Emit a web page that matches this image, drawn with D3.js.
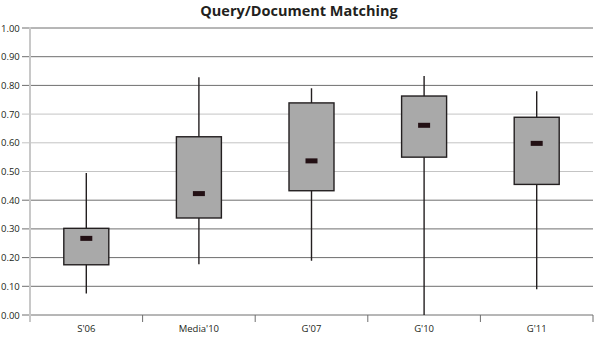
<!DOCTYPE html>
<html><head><meta charset="utf-8">
<script src="https://cdn.jsdelivr.net/npm/d3@7"></script>
<style>body{margin:0;background:#fff}svg{display:block}</style>
</head><body>
<svg id="c" width="600" height="338"></svg>
<script>
const categories = ["S'06", "Media'10", "G'07", "G'10", "G'11"];
const whiskerLow  = [0.075, 0.177, 0.189, 0.000, 0.090];
const boxLow      = [0.175, 0.338, 0.433, 0.550, 0.455];
const medians     = [0.267, 0.423, 0.537, 0.661, 0.598];
const boxHigh     = [0.302, 0.621, 0.739, 0.763, 0.689];
const whiskerHigh = [0.495, 0.828, 0.790, 0.833, 0.780];
const yTicks = [0, 0.1, 0.2, 0.3, 0.4, 0.5, 0.6, 0.7, 0.8, 0.9, 1.0];
const title = "Query/Document Matching";

const data = categories.map((c, i) => ({c, wl: whiskerLow[i], bl: boxLow[i], m: medians[i], bh: boxHigh[i], wh: whiskerHigh[i]}));

const svg = d3.select("#c");
const font = "'Open Sans', 'DejaVu Sans', sans-serif";
const x = d3.scaleBand().domain(categories).range([30, 593]);
const y = d3.scaleLinear().domain([0, 1]).range([315, 28]);

// gridlines
const light = new Set([0.5, 0.6, 0.7]);
svg.append("g").selectAll("line").data(yTicks).join("line")
  .attr("x1", 22).attr("x2", 593)
  .attr("y1", d => y(d)).attr("y2", d => y(d))
  .attr("stroke", d => light.has(+d.toFixed(1)) ? "#c4c4c4" : "#6e6e6e")
  .attr("stroke-width", 1);

// y labels
svg.append("g").selectAll("text").data(yTicks).join("text")
  .attr("x", 1).attr("y", d => y(d) + 3.5)
  .attr("font-family", font).attr("font-size", 9.5).attr("fill", "#231f20")
  .text(d => d.toFixed(2));

// y axis line
svg.append("line").attr("x1", 30).attr("x2", 30).attr("y1", 27).attr("y2", 322)
  .attr("stroke", "#c8c8c8").attr("stroke-width", 2);

// x ticks at band boundaries
const bounds = categories.slice(1).map(c => x(c)).concat([x.range()[1]]);
svg.append("g").selectAll("line").data(bounds).join("line")
  .attr("x1", d => d).attr("x2", d => d).attr("y1", 315).attr("y2", 322)
  .attr("stroke", "#6e6e6e").attr("stroke-width", 1);

// x labels
svg.append("g").selectAll("text").data(categories).join("text")
  .attr("x", d => x(d) + x.bandwidth() / 2).attr("y", 332)
  .attr("text-anchor", "middle")
  .attr("font-family", font).attr("font-size", 9.5).attr("fill", "#231f20")
  .text(d => d);

const bw = 45;
const g = svg.append("g").selectAll("g").data(data).join("g")
  .attr("transform", d => `translate(${x(d.c) + x.bandwidth() / 2},0)`);

g.append("line").attr("x1", 0).attr("x2", 0)
  .attr("y1", d => y(d.wh)).attr("y2", d => y(d.wl))
  .attr("stroke", "#231f20").attr("stroke-width", 1.4);

g.append("rect").attr("x", -bw / 2).attr("width", bw)
  .attr("y", d => y(d.bh)).attr("height", d => y(d.bl) - y(d.bh))
  .attr("fill", "#a9a9a9").attr("stroke", "#231f20").attr("stroke-width", 1.4);

g.append("rect").attr("x", -6).attr("width", 12)
  .attr("y", d => y(d.m) - 2.5).attr("height", 5)
  .attr("fill", "#231014");

svg.append("text").attr("x", 299).attr("y", 16).attr("text-anchor", "middle")
  .attr("font-family", font).attr("font-weight", "bold").attr("font-size", 14.5)
  .attr("fill", "#231f20").text(title);
</script>
</body></html>
